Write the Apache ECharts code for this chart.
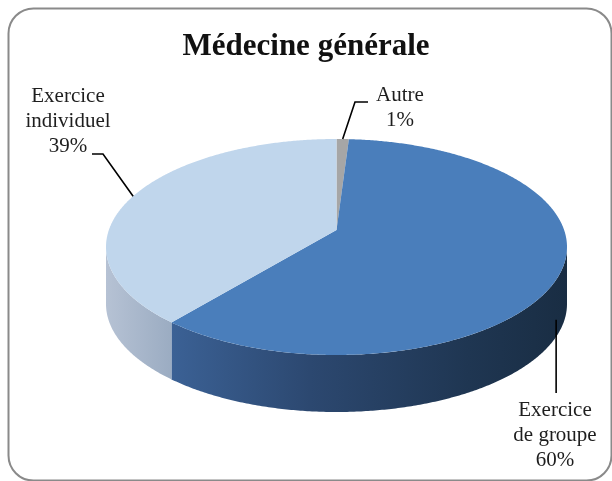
<!DOCTYPE html>
<html><head><meta charset="utf-8">
<script src="https://cdn.jsdelivr.net/npm/echarts@6/dist/echarts.min.js"></script>
<style>html,body{margin:0;padding:0;background:#fff}#c{width:612px;height:481px}</style>
</head><body><div id="c"></div>
<script>
// ---- data ----
const categories = ['Autre', 'Exercice de groupe', 'Exercice individuel'];
const values = [1, 60, 39];
const chartTitle = 'Médecine générale';

// ---- styles / layout ----
const topColors = ['#a6a6a6', '#4a7ebb', '#c0d6ec'];
const sideStops = [
  [[0, '#8c8c8c'], [1, '#6e6e6e']],
  [[0, '#3b6195'], [0.35, '#2c4870'], [0.75, '#1f3652'], [1, '#192d43']],
  [[0, '#b6c2d4'], [1, '#9bacc2']]
];
const BOX = { l: 106, r: 567, t: 139, b: 355, depth: 57 };
const PHI = 30 * Math.PI / 180, DIST = 5.52;
const FONT = '"Liberation Serif", "DejaVu Serif", serif';

const total = values.reduce((a, b) => a + b, 0);
function startAngle(i) { let s = 0; for (let k = 0; k < i; k++) s += values[k]; return s / total * Math.PI * 2; }

// perspective projection of a tilted circle (angle clockwise from 12 o'clock)
function raw(t) {
  const X = Math.sin(t), Z = Math.cos(t);
  const zc = DIST + Z * Math.cos(PHI);
  return [X / zc, -Z * Math.sin(PHI) / zc];
}
let minx = 1e9, maxx = -1e9, miny = 1e9, maxy = -1e9, tR = 0, tL = 0;
for (let k = 0; k < 3600; k++) {
  const t = k / 10 * Math.PI / 180, p = raw(t);
  if (p[0] > maxx) { maxx = p[0]; tR = t; }
  if (p[0] < minx) { minx = p[0]; tL = t; }
  miny = Math.min(miny, p[1]); maxy = Math.max(maxy, p[1]);
}
const kx = (BOX.r - BOX.l) / (maxx - minx), ky = (BOX.b - BOX.t) / (maxy - miny);
function proj(t, down) {
  const p = raw(t);
  return [BOX.l + (p[0] - minx) * kx, BOX.t + (p[1] - miny) * ky + (down || 0)];
}
const center = [BOX.l + (0 - minx) * kx, BOX.t + (0 - miny) * ky];

function arcPoints(a, b, down) {
  const pts = [];
  const n = Math.max(2, Math.ceil((b - a) / (Math.PI / 360)));
  for (let k = 0; k <= n; k++) pts.push(proj(a + (b - a) * k / n, down));
  return pts;
}

function renderSlice(params, api) {
  const i = params.dataIndex;
  const a0 = startAngle(i), a1 = a0 + api.value(0) / total * Math.PI * 2;
  const children = [];
  const s = Math.max(a0, tR), e = Math.min(a1, tL);
  if (e > s) {
    const pts = arcPoints(s, e, 0).concat(arcPoints(s, e, BOX.depth).reverse());
    children.push({
      type: 'polygon', shape: { points: pts },
      style: { fill: new echarts.graphic.LinearGradient(0, 0, 1, 0,
        sideStops[i].map(c => ({ offset: c[0], color: c[1] }))) }
    });
  }
  const top = [center].concat(arcPoints(a0, a1, 0));
  children.push({ type: 'polygon', shape: { points: top }, style: { fill: topColors[i] } });
  return { type: 'group', children };
}

// label layout (positions are layout, not data)
const labelLayout = [
  { text: [400, 108], path: a => [[368, 102], [355, 102], a], down: 0 },
  { text: [555, 435], path: a => [[a[0], 393], a], down: 0.85, dx: -5 },
  { text: [68, 121], path: a => [[92, 154], [103, 154], a], down: 0 }
];

function renderLabel(params, api) {
  const i = params.dataIndex;
  const v = api.value(0);
  const a0 = startAngle(i), mid = a0 + v / total * Math.PI;
  const L = labelLayout[i];
  const p = proj(mid, BOX.depth * L.down);
  const anchor = [p[0] + (L.dx || 0), p[1]];
  const pct = Math.round(v / total * 100) + '%';
  const txt = categories[i].replace(' ', '\n') + '\n' + pct;
  return {
    type: 'group',
    children: [
      { type: 'polyline', shape: { points: L.path(anchor) },
        style: { stroke: '#000', lineWidth: 1.6, fill: null } },
      { type: 'text', x: L.text[0], y: L.text[1],
        style: { text: txt, fontFamily: FONT, fontSize: 21, lineHeight: 25,
          fill: '#1e1e1e', align: 'center', verticalAlign: 'middle' } }
    ]
  };
}

const chart = echarts.init(document.getElementById('c'), null, { renderer: 'canvas' });
const data = values.map((v, i) => ({ name: categories[i], value: v }));
chart.setOption({
  animation: false,
  backgroundColor: '#ffffff',
  title: {
    text: chartTitle, left: 'center', top: 29, padding: 0,
    textStyle: { fontFamily: FONT, fontSize: 31, fontWeight: 'bold', color: '#111', lineHeight: 36 }
  },
  graphic: [{
    type: 'rect', left: 6, top: 6, z: -10,
    shape: { x: 0, y: 0, width: 603, height: 472, r: 25 },
    style: { fill: null, stroke: '#8a8a8a', lineWidth: 2 }
  }],
  series: [
    { type: 'custom', coordinateSystem: 'none', renderItem: renderSlice, data: data, z: 2 },
    { type: 'custom', coordinateSystem: 'none', renderItem: renderLabel, data: data, z: 5 }
  ]
});
</script>
</body></html>
